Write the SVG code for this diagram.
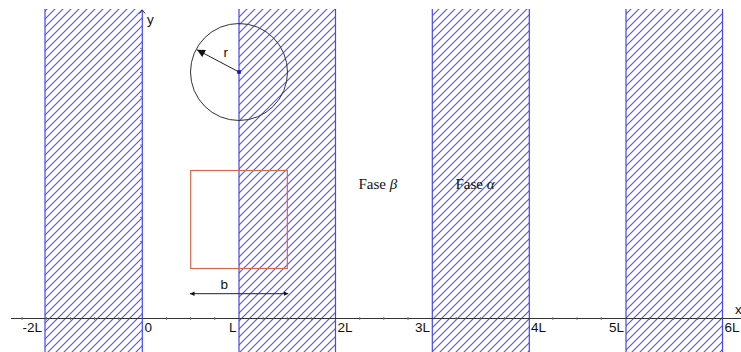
<svg xmlns="http://www.w3.org/2000/svg" width="741" height="352" viewBox="0 0 741 352">
<defs>
<pattern id="hatch" patternUnits="userSpaceOnUse" width="8" height="8">
<path d="M-1,1 L1,-1 M0,8 L8,0 M7,9 L9,7" stroke="#4f4fff" stroke-width="1.1"/>
</pattern>
<marker id="arr" viewBox="0 0 10 10" refX="10" refY="5" markerWidth="9" markerHeight="8" markerUnits="userSpaceOnUse" orient="auto">
<path d="M0,0 L10,5 L0,10 z" fill="#111"/>
</marker>
<marker id="arrs" viewBox="0 0 10 10" refX="10" refY="5" markerWidth="4.5" markerHeight="4.5" markerUnits="userSpaceOnUse" orient="auto-start-reverse">
<path d="M0,0 L10,5 L0,10 z" fill="#111"/>
</marker>
</defs>
<style>
.strip{fill:url(#hatch);}
.edge{stroke:#4646ea;stroke-width:1.2;fill:none;}
.axis{stroke:#333;stroke-width:1;fill:none;}
.tick{stroke:#777;stroke-width:1;}
.lbl{font-family:"Liberation Sans",Arial,sans-serif;font-size:13.5px;fill:#111;}
.fase{font-family:"Liberation Serif","Times New Roman",serif;font-size:15px;fill:#111;}
</style>
<rect width="741" height="352" fill="#fff"/>

<g id="strip-m2L-0">
<rect class="strip" x="45" y="9" width="97.3" height="343"/>
<path class="edge" d="M45,9 V352"/>
</g>
<g id="strip-L-2L">
<rect class="strip" x="239" y="9" width="96.5" height="343"/>
<path class="edge" d="M239,9 V352 M335.5,9 V352"/>
</g>
<g id="strip-3L-4L">
<rect class="strip" x="432.3" y="9" width="97" height="343"/>
<path class="edge" d="M432.3,9 V352 M529.3,9 V352"/>
</g>
<g id="strip-5L-6L">
<rect class="strip" x="626" y="9" width="96.5" height="343"/>
<path class="edge" d="M626,9 V352 M722.5,9 V352"/>
</g>

<g id="connectors">
<g id="x-axis">
<line class="axis" x1="11" y1="318.5" x2="741" y2="318.5"/>
<path class="tick" d="M22,317 v3 M46.3,317 v3 M70.4,317 v3 M94.5,317 v3 M118.7,317 v3 M166.5,317 v3 M190.6,317 v3 M214.8,317 v3 M263.1,317 v3 M287.2,317 v3 M311.4,317 v3 M359.7,317 v3 M383.8,317 v3 M408,317 v3 M456.3,317 v3 M480.4,317 v3 M504.6,317 v3 M552.9,317 v3 M577,317 v3 M601.2,317 v3 M649.5,317 v3 M673.6,317 v3 M697.8,317 v3"/>
</g>
<g id="y-axis">
<line x1="142.3" y1="10" x2="142.3" y2="352" stroke="#4646ea" stroke-width="1.2"/>
<path class="axis" d="M139.5,13.5 L142.3,10 L145.1,13.5"/>
<path class="tick" d="M140,48.3 h2 M140,72.5 h2 M140,96.7 h2 M140,120.8 h2 M140,145 h2 M140,169.1 h2 M140,193.3 h2 M140,217.4 h2 M140,241.6 h2 M140,265.7 h2 M140,289.9 h2"/>
</g>
<line id="radius" x1="239" y1="72" x2="197" y2="49.8" stroke="#222" stroke-width="1" marker-end="url(#arr)"/>
<line id="b-dim" x1="190" y1="293.7" x2="288.3" y2="293.7" stroke="#222" stroke-width="1" marker-start="url(#arrs)" marker-end="url(#arrs)"/>
</g>

<g id="circle">
<circle cx="239" cy="72" r="48.5" fill="none" stroke="#333" stroke-width="1"/>
<rect x="237.2" y="70.2" width="3.6" height="3.6" fill="#1010d0"/>
<text class="lbl" x="223.5" y="57">r</text>
</g>

<g id="square">
<rect x="190.7" y="170.5" width="96.6" height="98" fill="none" stroke="#cf6a4c" stroke-width="1.2"/>
<text class="lbl" x="220.5" y="289">b</text>
</g>

<g id="fase-beta"><text class="fase" x="358.5" y="189">Fase <tspan font-style="italic">β</tspan></text></g>
<g id="fase-alpha"><text class="fase" x="455.5" y="189">Fase <tspan font-style="italic">α</tspan></text></g>

<g id="axis-labels">
<text class="lbl" x="147" y="24">y</text>
<text class="lbl" x="735" y="314">x</text>
<text class="lbl" x="42" y="332" text-anchor="end">-2L</text>
<text class="lbl" x="144.5" y="332">0</text>
<text class="lbl" x="236.5" y="332" text-anchor="end">L</text>
<text class="lbl" x="337.5" y="332">2L</text>
<text class="lbl" x="430" y="332" text-anchor="end">3L</text>
<text class="lbl" x="531" y="332">4L</text>
<text class="lbl" x="624" y="332" text-anchor="end">5L</text>
<text class="lbl" x="724.5" y="332">6L</text>
</g>
</svg>
